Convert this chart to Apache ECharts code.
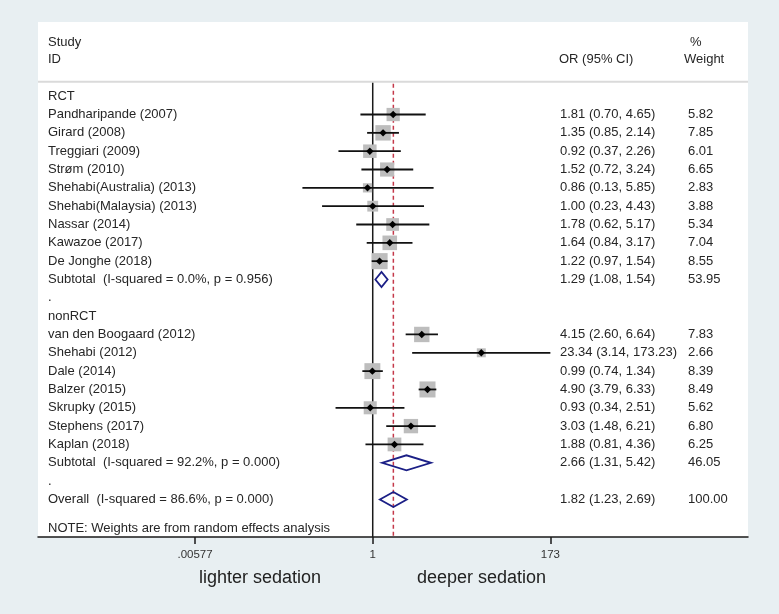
<!DOCTYPE html>
<html><head><meta charset="utf-8">
<script src="https://cdn.jsdelivr.net/npm/echarts@6/dist/echarts.min.js"></script>
<style>html,body{margin:0;padding:0;background:#e8eff2;}#c{width:779px;height:614px;}</style>
</head><body><div id="c"></div>
<script>
// ---------------- data ----------------
const groupNames = ['RCT', 'nonRCT'];
const studyNames = [
  'Pandharipande (2007)', 'Girard (2008)', 'Treggiari (2009)', 'Strøm (2010)',
  'Shehabi(Australia) (2013)', 'Shehabi(Malaysia) (2013)', 'Nassar (2014)',
  'Kawazoe (2017)', 'De Jonghe (2018)',
  'van den Boogaard (2012)', 'Shehabi (2012)', 'Dale (2014)', 'Balzer (2015)',
  'Skrupky (2015)', 'Stephens (2017)', 'Kaplan (2018)'
];
const studyGroup = ['RCT','RCT','RCT','RCT','RCT','RCT','RCT','RCT','RCT',
  'nonRCT','nonRCT','nonRCT','nonRCT','nonRCT','nonRCT','nonRCT'];
const studyOR = [1.81, 1.35, 0.92, 1.52, 0.86, 1.00, 1.78, 1.64, 1.22,
  4.15, 23.34, 0.99, 4.90, 0.93, 3.03, 1.88];
const studyLo = [0.70, 0.85, 0.37, 0.72, 0.13, 0.23, 0.62, 0.84, 0.97,
  2.60, 3.14, 0.74, 3.79, 0.34, 1.48, 0.81];
const studyHi = [4.65, 2.14, 2.26, 3.24, 5.85, 4.43, 5.17, 3.17, 1.54,
  6.64, 173.23, 1.34, 6.33, 2.51, 6.21, 4.36];
const studyWeight = [5.82, 7.85, 6.01, 6.65, 2.83, 3.88, 5.34, 7.04, 8.55,
  7.83, 2.66, 8.39, 8.49, 5.62, 6.80, 6.25];

const subtotalLabels = ['Subtotal  (I-squared = 0.0%, p = 0.956)', 'Subtotal  (I-squared = 92.2%, p = 0.000)'];
const subtotalOR = [1.29, 2.66];
const subtotalLo = [1.08, 1.31];
const subtotalHi = [1.54, 5.42];
const subtotalWeight = [53.95, 46.05];

const overallLabel = 'Overall  (I-squared = 86.6%, p = 0.000)';
const overallOR = 1.82, overallLo = 1.23, overallHi = 2.69, overallWeight = 100.00;

const nullValue = 1;
const tickValues = [0.00577, 1, 173];
const tickLabels = ['.00577', '1', '173'];
const noteText = 'NOTE: Weights are from random effects analysis';

// ---------------- build rows ----------------
const L = v => Math.log10(v);
const f2 = v => v.toFixed(2);
const ciText = (o, l, h) => `${f2(o)} (${f2(l)}, ${f2(h)})`;
const textRows = [];
const studyData = [];
const pooledData = [];
let row = 0;
groupNames.forEach((g, gi) => {
  textRows.push({ row, label: g });
  row++;
  studyNames.forEach((n, i) => {
    if (studyGroup[i] !== g) return;
    textRows.push({ row, label: n, ci: ciText(studyOR[i], studyLo[i], studyHi[i]), w: f2(studyWeight[i]) });
    studyData.push([L(studyOR[i]), row, L(studyLo[i]), L(studyHi[i]), studyWeight[i]]);
    row++;
  });
  textRows.push({ row, label: subtotalLabels[gi], ci: ciText(subtotalOR[gi], subtotalLo[gi], subtotalHi[gi]), w: f2(subtotalWeight[gi]) });
  pooledData.push([L(subtotalOR[gi]), row, L(subtotalLo[gi]), L(subtotalHi[gi])]);
  row++;
  textRows.push({ row, label: '.' });
  row++;
});
const overallRow = row;
textRows.push({ row: overallRow, label: overallLabel, ci: ciText(overallOR, overallLo, overallHi), w: f2(overallWeight) });
pooledData.push([L(overallOR), overallRow, L(overallLo), L(overallHi)]);

// header / note rows (layout)
const HEAD1 = -2.96, HEAD2 = -2.03, SEP = -0.79, NOTE_ROW = overallRow + 1.57;
textRows.push({ row: HEAD1, label: 'Study', w: '%', wx: 690 });
textRows.push({ row: HEAD2, label: 'ID', ci: 'OR (95% CI)', w: 'Weight', wx: 684, cx: 559 });
textRows.push({ row: NOTE_ROW, label: noteText, small: true });

// ---------------- style ----------------
const FONT = 'Liberation Sans, Arial, sans-serif';
const TXT = '#262626';
const X_LABEL = 48, X_CI = 560, X_W = 688;
const FS = 13;

const chart = echarts.init(document.getElementById('c'));
chart.setOption({
  animation: false,
  backgroundColor: '#e8eff2',
  grid: { left: 38, right: 31, top: 22, bottom: 77, show: true, backgroundColor: '#ffffff', borderWidth: 0 },
  xAxis: {
    type: 'value', min: -4.218, max: 4.729,
    splitLine: { show: false },
    axisLine: { show: true, onZero: false, lineStyle: { color: '#1a1a1a', width: 1.5 } },
    axisTick: { show: true, customValues: tickValues.map(L), length: 7, lineStyle: { color: '#1a1a1a', width: 1.5 } },
    axisLabel: {
      show: true, customValues: tickValues.map(L), margin: 12, color: '#333', fontSize: 11.5, fontFamily: FONT,
      formatter: v => {
        let best = 0;
        tickValues.forEach((t, i) => { if (Math.abs(L(t) - v) < Math.abs(L(tickValues[best]) - v)) best = i; });
        return tickLabels[best];
      }
    }
  },
  yAxis: { type: 'value', inverse: true, min: -4.048, max: 24.05, show: false },
  graphic: [
    { type: 'text', x: 199, y: 578, style: { text: 'lighter sedation', fontSize: 18, fontFamily: FONT, fill: '#222', verticalAlign: 'middle' } },
    { type: 'text', x: 417, y: 578, style: { text: 'deeper sedation', fontSize: 18, fontFamily: FONT, fill: '#222', verticalAlign: 'middle' } }
  ],
  series: [
    { // separator + reference lines
      type: 'custom', silent: true, clip: false,
      data: [[L(nullValue), L(overallOR)]],
      renderItem: (params, api) => {
        const cs = params.coordSys;
        const ySep = api.coord([0, SEP])[1];
        const yBot = cs.y + cs.height;
        const x1 = api.coord([api.value(0), 0])[0];
        const xo = api.coord([api.value(1), 0])[0];
        return { type: 'group', children: [
          { type: 'line', shape: { x1: cs.x, y1: ySep, x2: cs.x + cs.width, y2: ySep }, style: { stroke: '#dadada', lineWidth: 2 } },
          { type: 'line', shape: { x1: x1, y1: ySep + 1, x2: x1, y2: yBot }, style: { stroke: '#1a1a1a', lineWidth: 1.5 } },
          { type: 'line', shape: { x1: xo, y1: ySep + 2, x2: xo, y2: yBot }, style: { stroke: '#c4394a', lineWidth: 1.5, lineDash: [4, 3] } }
        ] };
      }
    },
    { // studies
      type: 'custom', silent: true, clip: false,
      data: studyData,
      renderItem: (params, api) => {
        const p = api.coord([api.value(0), api.value(1)]);
        const lo = api.coord([api.value(2), api.value(1)])[0];
        const hi = api.coord([api.value(3), api.value(1)])[0];
        const s = 5.5 * Math.sqrt(api.value(4));
        const d = 3.7;
        return { type: 'group', children: [
          { type: 'rect', shape: { x: p[0] - s / 2, y: p[1] - s / 2, width: s, height: s }, style: { fill: '#bdbdbd' } },
          { type: 'line', shape: { x1: lo, y1: p[1], x2: hi, y2: p[1] }, style: { stroke: '#111', lineWidth: 1.8 } },
          { type: 'polygon', shape: { points: [[p[0] - d, p[1]], [p[0], p[1] - d], [p[0] + d, p[1]], [p[0], p[1] + d]] }, style: { fill: '#000' } }
        ] };
      }
    },
    { // pooled diamonds
      type: 'custom', silent: true, clip: false,
      data: pooledData,
      renderItem: (params, api) => {
        const p = api.coord([api.value(0), api.value(1)]);
        const lo = api.coord([api.value(2), api.value(1)])[0];
        const hi = api.coord([api.value(3), api.value(1)])[0];
        const h = 7.5;
        return { type: 'polygon', shape: { points: [[lo, p[1]], [p[0], p[1] - h], [hi, p[1]], [p[0], p[1] + h]] },
          style: { fill: 'rgba(255,255,255,0)', stroke: '#1b1f86', lineWidth: 1.8 } };
      }
    },
    { // texts
      type: 'custom', silent: true, clip: false,
      data: textRows.map(r => [0, r.row]),
      renderItem: (params, api) => {
        const r = textRows[params.dataIndex];
        const y = api.coord([0, r.row])[1];
        const ch = [{ type: 'text', x: X_LABEL, y: y, style: { text: r.label, fontSize: FS, fontFamily: FONT, fill: TXT, verticalAlign: 'middle' } }];
        if (r.ci) ch.push({ type: 'text', x: r.cx || X_CI, y: y, style: { text: r.ci, fontSize: FS, fontFamily: FONT, fill: TXT, verticalAlign: 'middle' } });
        if (r.w) ch.push({ type: 'text', x: r.wx || X_W, y: y, style: { text: r.w, fontSize: FS, fontFamily: FONT, fill: TXT, verticalAlign: 'middle' } });
        return { type: 'group', children: ch };
      }
    }
  ]
});
</script></body></html>
